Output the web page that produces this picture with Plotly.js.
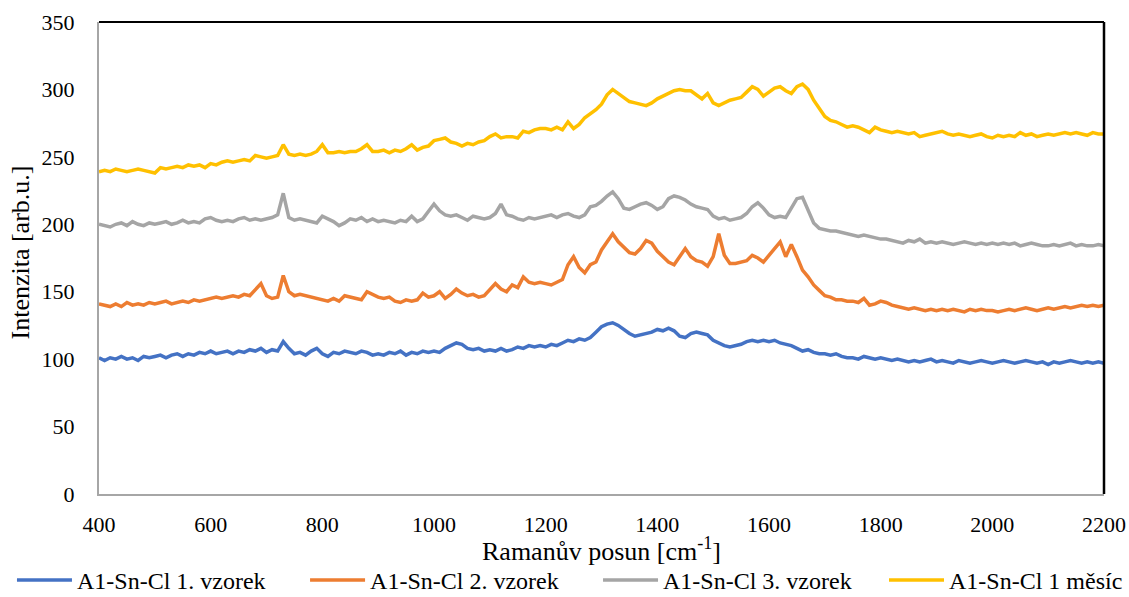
<!DOCTYPE html>
<html>
<head>
<meta charset="utf-8">
<script src="https://cdn.plot.ly/plotly-3.0.1.min.js"></script>
<style>html,body{margin:0;padding:0;background:#fff;}#chart{width:1129px;height:597px;}</style>
</head>
<body>
<div id="chart"></div>
<script>
// Raman shift grid (cm^-1), step 10 from 400 to 2200
var ramanShift = [];
for (var s = 400; s <= 2200; s += 10) ramanShift.push(s);

var seriesNames = ["A1-Sn-Cl 1. vzorek", "A1-Sn-Cl 2. vzorek", "A1-Sn-Cl 3. vzorek", "A1-Sn-Cl 1 měsíc"];

var vzorek1 = [
  101, 99, 101, 100, 102, 100, 101, 99, 102, 101,
  102, 103, 101, 103, 104, 102, 104, 103, 105, 104,
  106, 104, 105, 106, 104, 106, 105, 107, 106, 108,
  105, 107, 106, 113, 108, 104, 105, 103, 106, 108,
  104, 102, 105, 104, 106, 105, 104, 106, 105, 103,
  104, 103, 105, 104, 106, 103, 105, 104, 106, 105,
  106, 105, 108, 110, 112, 111, 108, 107, 108, 106,
  107, 106, 108, 106, 107, 109, 108, 110, 109, 110,
  109, 111, 110, 112, 114, 113, 115, 114, 116, 120,
  124, 126, 127, 125, 122, 119, 117, 118, 119, 120,
  122, 121, 123, 121, 117, 116, 119, 120, 119, 118,
  114, 112, 110, 109, 110, 111, 113, 114, 113, 114,
  113, 114, 112, 111, 110, 108, 106, 107, 105, 104,
  104, 103, 104, 102, 101, 101, 100, 102, 101, 100,
  101, 100, 99, 100, 99, 98, 99, 98, 99, 100,
  98, 99, 98, 97, 99, 98, 97, 98, 99, 98,
  97, 98, 99, 98, 97, 98, 99, 98, 97, 98,
  96, 98, 97, 98, 99, 98, 97, 98, 97, 98,
  97
];

var vzorek2 = [
  141, 140, 139, 141, 139, 142, 140, 141, 140, 142,
  141, 142, 143, 141, 142, 143, 142, 144, 143, 144,
  145, 146, 145, 146, 147, 146, 148, 147, 152, 156,
  147, 145, 146, 162, 150, 147, 148, 147, 146, 145,
  144, 143, 145, 143, 147, 146, 145, 144, 150, 148,
  146, 145, 146, 143, 142, 144, 143, 144, 149, 146,
  147, 150, 145, 148, 152, 149, 147, 148, 146, 147,
  152, 156, 152, 150, 155, 153, 161, 157, 156, 157,
  156, 155, 157, 159, 170, 176, 168, 164, 170, 172,
  181, 187, 193, 187, 183, 179, 178, 182, 188, 186,
  180, 176, 172, 170, 176, 182, 176, 173, 172, 169,
  176, 193, 177, 171, 171, 172, 173, 177, 175, 172,
  177, 183, 187, 176, 185, 176, 166, 161, 155, 151,
  147, 146, 144, 144, 143, 143, 142, 145, 140, 141,
  143, 142, 140, 139, 138, 137, 138, 137, 136, 137,
  136, 137, 136, 137, 136, 135, 137, 136, 137, 136,
  136, 135, 136, 137, 136, 137, 138, 137, 136, 137,
  138, 137, 138, 139, 138, 139, 140, 139, 140, 139,
  140
];

var vzorek3 = [
  200, 199, 198, 200, 201, 199, 202, 200, 199, 201,
  200, 201, 202, 200, 201, 203, 201, 202, 201, 204,
  205, 203, 202, 203, 202, 204, 205, 203, 204, 203,
  204, 205, 207, 223, 205, 203, 204, 203, 202, 201,
  206, 204, 202, 199, 201, 204, 203, 205, 202, 204,
  202, 203, 202, 201, 203, 202, 206, 202, 204, 209,
  215, 210, 207, 206, 207, 205, 203, 206, 205, 204,
  205, 208, 215, 207, 206, 204, 203, 205, 204, 205,
  206, 207, 205, 207, 208, 206, 205, 207, 213, 214,
  217, 221, 224, 219, 212, 211, 213, 215, 216, 214,
  211, 213, 219, 221, 220, 218, 215, 213, 212, 211,
  206, 204, 205, 203, 204, 205, 208, 213, 216, 212,
  207, 205, 206, 205, 212, 219, 220, 210, 201, 197,
  196, 195, 195, 194, 193, 192, 191, 192, 191, 190,
  189, 189, 188, 187, 186, 188, 187, 189, 186, 187,
  186, 187, 186, 185, 186, 187, 186, 185, 186, 185,
  186, 185, 186, 185, 186, 184, 185, 186, 185, 184,
  184, 185, 184, 185, 186, 184, 185, 184, 184, 185,
  184
];

var mesic1 = [
  239, 240, 239, 241, 240, 239, 240, 241, 240, 239,
  238, 242, 241, 242, 243, 242, 244, 243, 244, 242,
  245, 244, 246, 247, 246, 247, 248, 247, 251, 250,
  249, 250, 251, 259, 252, 251, 252, 251, 252, 254,
  259, 253, 253, 254, 253, 254, 254, 256, 259, 254,
  254, 255, 253, 255, 254, 256, 259, 255, 257, 258,
  262, 263, 264, 261, 260, 258, 260, 259, 261, 262,
  265, 267, 264, 265, 265, 264, 269, 268, 270, 271,
  271, 270, 272, 270, 276, 271, 274, 279, 282, 285,
  289, 296, 300, 297, 294, 291, 290, 289, 288, 290,
  293, 295, 297, 299, 300, 299, 299, 296, 293, 297,
  290, 288, 290, 292, 293, 294, 298, 302, 300, 295,
  298, 301, 302, 299, 297, 302, 304, 300, 292, 286,
  280, 277, 276, 274, 272, 273, 272, 270, 268, 272,
  270, 269, 268, 269, 268, 267, 268, 265, 266, 267,
  268, 269, 267, 266, 267, 266, 265, 266, 267, 265,
  264, 266, 265, 266, 265, 268, 266, 267, 265, 266,
  267, 266, 267, 268, 267, 268, 267, 266, 268, 267,
  267
];

var seriesColors = ["#4472C4", "#ED7D31", "#A5A5A5", "#FFC000"];
var xTickVals = [400, 600, 800, 1000, 1200, 1400, 1600, 1800, 2000, 2200];
var yTickVals = [0, 50, 100, 150, 200, 250, 300, 350];
var xTitle = "Ramanův posun [cm<sup>-1</sup>]";
var yTitle = "Intenzita [arb.u.]";

var legendIds = ["legend", "legend2", "legend3", "legend4"];
var legendX = [0.0106, 0.2702, 0.5297, 0.7830];

var allY = [vzorek1, vzorek2, vzorek3, mesic1];
var traces = allY.map(function (ys, i) {
  return {
    type: "scatter", mode: "lines",
    x: ramanShift, y: ys, name: seriesNames[i],
    legend: legendIds[i],
    line: {color: seriesColors[i], width: 3.5, shape: "linear"}
  };
});

var fontFam = "Liberation Serif";
var layout = {
  width: 1129, height: 597,
  paper_bgcolor: "#fff", plot_bgcolor: "#fff",
  margin: {l: 99, r: 25, t: 22, b: 103, autoexpand: false},
  font: {family: fontFam, size: 21, color: "#000"},
  showlegend: true,
  xaxis: {
    range: [400, 2200], tickvals: xTickVals, ticktext: xTickVals.map(String),
    showgrid: false, zeroline: false, ticks: "",
    showline: true, linecolor: "#A6A6A6", linewidth: 2,
    ticklabelstandoff: 10,
    tickfont: {family: fontFam, size: 22, color: "#000"}
  },
  yaxis: {
    range: [0, 350], tickvals: yTickVals, ticktext: yTickVals.map(String),
    showgrid: false, zeroline: false, ticks: "",
    showline: true, linecolor: "#A6A6A6", linewidth: 2,
    ticklabelstandoff: 18,
    tickfont: {family: fontFam, size: 22, color: "#000"}
  },
  annotations: [
    {text: xTitle, xref: "paper", yref: "paper", x: 0.5, y: -0.1186,
     xanchor: "center", yanchor: "middle", showarrow: false,
     font: {family: fontFam, size: 26, color: "#000"}},
    {text: yTitle, xref: "paper", yref: "paper", x: -0.0786, y: 0.5117,
     xanchor: "center", yanchor: "middle", showarrow: false, textangle: -90,
     font: {family: fontFam, size: 26, color: "#000"}}
  ],
  shapes: [
    {type: "line", xref: "paper", yref: "paper", x0: 0, x1: 1, y0: 1, y1: 1, line: {color: "#000", width: 2}},
    {type: "line", xref: "paper", yref: "paper", x0: 1, x1: 1, y0: 0, y1: 1, line: {color: "#000", width: 2.5}}
  ]
};

legendIds.forEach(function (id, i) {
  layout[id] = {
    orientation: "h", xref: "container", yref: "container",
    x: legendX[i], y: 0.028, xanchor: "left", yanchor: "middle",
    font: {family: fontFam, size: 24, color: "#000"},
    itemwidth: 55, bgcolor: "rgba(0,0,0,0)", borderwidth: 0
  };
});

Plotly.newPlot("chart", traces, layout, {staticPlot: true, displayModeBar: false});
</script>
</body>
</html>
